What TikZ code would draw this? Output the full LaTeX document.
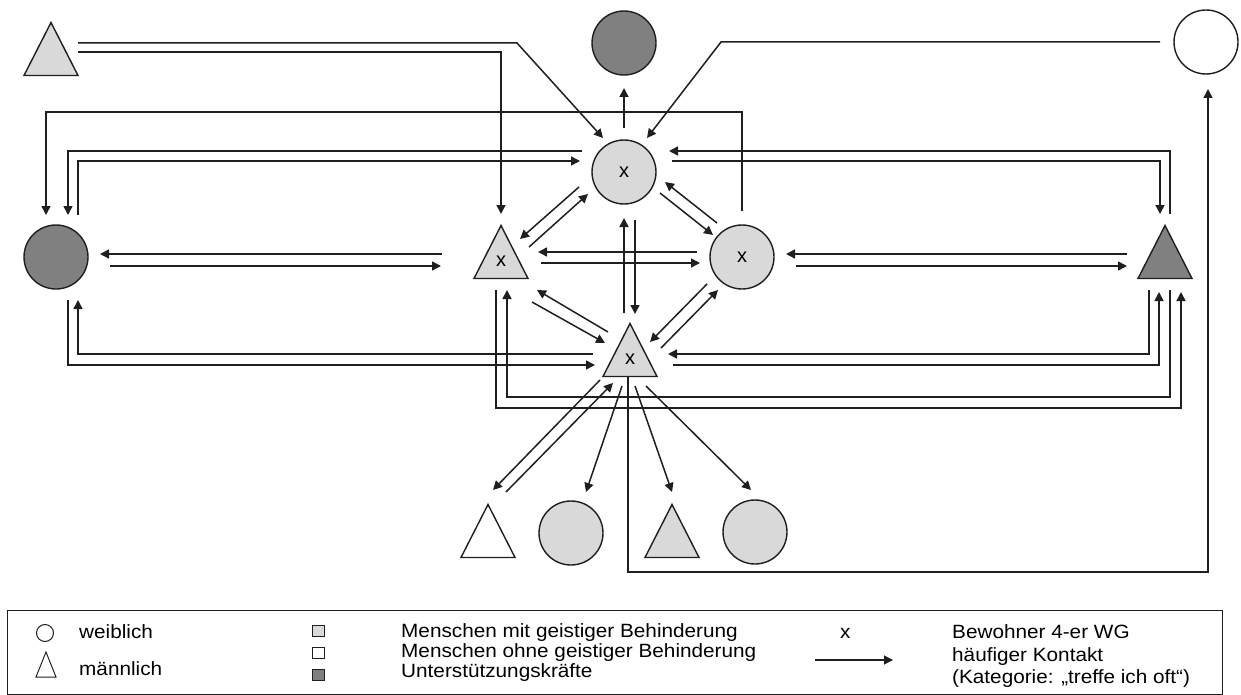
\documentclass[tikz,border=0pt]{standalone}
\usepackage{fontspec}
\setmainfont{Liberation Sans}
\newfontfamily\lgfont[FakeStretch=1.08]{Liberation Sans}
\usetikzlibrary{arrows.meta,calc}
\definecolor{lightg}{HTML}{D9D9D9}
\definecolor{darkg}{HTML}{808080}
\definecolor{linec}{HTML}{1F1F1F}
\newcommand{\trinode}[5]{%
  \draw[shp,fill=#4] (#2-27,#3+26.5) -- (#2,#3-26.5) -- (#2+27,#3+26.5) -- cycle;
  \node[inner sep=0pt] (#1) at (#2,#3) {};
  \node[lbl] (#1x) at (#2,#3+9) {#5};}
\begin{document}
\begin{tikzpicture}[x=1pt,y=-1pt,
  shp/.style={draw=linec,line width=1.4pt},
  circ/.style={shp,circle,minimum size=64pt,inner sep=0pt,font=\fontsize{20}{20}\selectfont},
  con/.style={draw=linec,line width=1.5pt},
  arr/.style={con,-{Triangle[length=9pt,width=9pt]}},
  lbl/.style={inner sep=0pt,font=\fontsize{20}{20}\selectfont},
  lg/.style={inner sep=0pt,anchor=base west,font=\lgfont\fontsize{19.2}{22}\selectfont},
  lgsym/.style={draw=linec,line width=1pt}]
\fill[white] (0,0) rectangle (1241,695);
\useasboundingbox (0,0) rectangle (1241,695);

% nodes
\trinode{tl}{51}{49}{lightg}{}
\node[circ,fill=darkg] (topd) at (624,43) {};
\node[circ,fill=white] (topw) at (1206,42) {};
\node[circ,fill=lightg] (cc) at (624,172) {x};
\trinode{lt}{501}{252}{lightg}{x}
\node[circ,fill=lightg] (rc) at (742,257) {x};
\node[circ,fill=darkg] (ld) at (56,257) {};
\trinode{rt}{1165}{252}{darkg}{}
\trinode{bt}{630}{350}{lightg}{x}
\trinode{b1}{488}{531}{white}{}
\node[circ,fill=lightg] (b2) at (571,533) {};
\trinode{b3}{672}{531}{lightg}{}
\node[circ,fill=lightg] (b4) at (755,532) {};

% connectors
\draw[arr] ($(tl)+(27,-6)$) -- ($(cc)+(-107,-129)$) -- ($(cc)+(-21,-34)$);
\draw[arr] ($(tl)+(27,3)$) -| ($(lt)+(0,-38)$);
\draw[arr] ($(topw)+(-46,0)$) -- ($(cc)+(97,-130)$) -- ($(cc)+(23,-34)$);
\draw[arr] ($(cc)+(0,-44)$) -- ($(topd)+(0,45)$);
\draw[arr] ($(bt)+(-2,27)$) |- ($(topw)+(2,530)$) -- ($(topw)+(2,47)$);
\draw[arr] ($(rc)+(0,-46)$) |- ($(ld)+(-10,-145)$) -- ($(ld)+(-10,-42)$);
\draw[arr] ($(cc)+(-42,-21)$) -| ($(ld)+(12,-42)$);
\draw[arr] ($(ld)+(22,-42)$) |- ($(cc)+(-44,-11)$);
\draw[arr] ($(rt)+(5,-38)$) |- ($(cc)+(45,-21)$);
\draw[arr] ($(cc)+(48,-11)$) -| ($(rt)+(-5,-38)$);
\draw[arr] ($(lt)+(-59,2)$) -- ($(ld)+(44,-3)$);
\draw[arr] ($(ld)+(54,9)$) -- ($(lt)+(-60,14)$);
\draw[arr] ($(rc)+(-45,-5)$) -- ($(lt)+(37,0)$);
\draw[arr] ($(lt)+(40,11)$) -- ($(rc)+(-42,6)$);
\draw[arr] ($(rt)+(-38,2)$) -- ($(rc)+(44,-3)$);
\draw[arr] ($(rc)+(54,9)$) -- ($(rt)+(-38,14)$);
\draw[arr] ($(cc)+(-45,15)$) -- ($(lt)+(19,-13)$);
\draw[arr] ($(lt)+(28,-5)$) -- ($(cc)+(-36,22)$);
\draw[arr] ($(cc)+(36,21)$) -- ($(rc)+(-29,-22)$);
\draw[arr] ($(rc)+(-25,-34)$) -- ($(cc)+(41,10)$);
\draw[arr] ($(bt)+(-6,-37)$) -- ($(cc)+(0,46)$);
\draw[arr] ($(cc)+(11,48)$) -- ($(bt)+(5,-36)$);
\draw[arr] ($(bt)+(-22,-18)$) -- ($(lt)+(36,38)$);
\draw[arr] ($(lt)+(31,50)$) -- ($(bt)+(-25,-7)$);
\draw[arr] ($(rc)+(-35,27)$) -- ($(bt)+(20,-8)$);
\draw[arr] ($(bt)+(31,-2)$) -- ($(rc)+(-24,33)$);
\draw[arr] ($(bt)+(-37,4)$) -| ($(ld)+(22,43)$);
\draw[arr] ($(ld)+(12,43)$) |- ($(bt)+(-35,15)$);
\draw[arr] ($(rt)+(-16,38)$) |- ($(bt)+(38,4)$);
\draw[arr] ($(bt)+(43,15)$) -| ($(rt)+(-6,40)$);
\draw[arr] ($(rt)+(5,38)$) |- ($(lt)+(6,145)$) -- ($(lt)+(6,38)$);
\draw[arr] ($(lt)+(-5,38)$) |- ($(rt)+(16,156)$) -- ($(rt)+(16,40)$);
\draw[arr] ($(bt)+(-30,30)$) -- ($(b1)+(5,-41)$);
\draw[arr] ($(b1)+(18,-39)$) -- ($(bt)+(-17,33)$);
\draw[arr] ($(bt)+(-8,36)$) -- ($(b2)+(15,-41)$);
\draw[arr] ($(bt)+(5,36)$) -- ($(b3)+(0,-39)$);
\draw[arr] ($(bt)+(16,36)$) -- ($(b4)+(-4,-42)$);

% legend
\node[draw=linec,line width=1.2pt,anchor=north west,minimum width=1215pt,minimum height=84pt,inner sep=0pt] (legend) at (7,610) {};
\node[lgsym,circle,minimum size=17pt,inner sep=0pt] (lgcirc) at (45,633) {};
\draw[lgsym] (36,677) -- (46,652) -- (56,677) -- cycle;
\node[inner sep=0pt] (lgtri) at (46,666) {};
\node[lg] (lgw) at (79,638) {weiblich};
\node[lg] (lgm) at (79,675) {männlich};
\node[lgsym,fill=lightg,minimum width=12pt,minimum height=11pt,inner sep=0pt] (sq1) at (318,631) {};
\node[lgsym,fill=white,minimum width=12pt,minimum height=11pt,inner sep=0pt] (sq2) at (318,653) {};
\node[lgsym,fill=darkg,minimum width=12pt,minimum height=11pt,inner sep=0pt] (sq3) at (318,675) {};
\node[lg] (lt1) at (401,637) {Menschen mit geistiger Behinderung};
\node[lg] (lt2) at (401,657) {Menschen ohne geistiger Behinderung};
\node[lg] (lt3) at (401,677) {Unterstützungskräfte};
\node[lg] (lgx) at (840,638) {x};
\coordinate (la) at (815,660);
\coordinate (lb) at (893,660);
\draw[arr,line width=1.2pt] (la) -- (lb);
\node[lg] (lr1) at (952,638) {Bewohner 4-er WG};
\node[lg] (lr2) at (952,661) {häufiger Kontakt};
\node[lg] (lr3) at (952,683) {(Kategorie: „treffe ich oft“)};
\end{tikzpicture}
\end{document}
